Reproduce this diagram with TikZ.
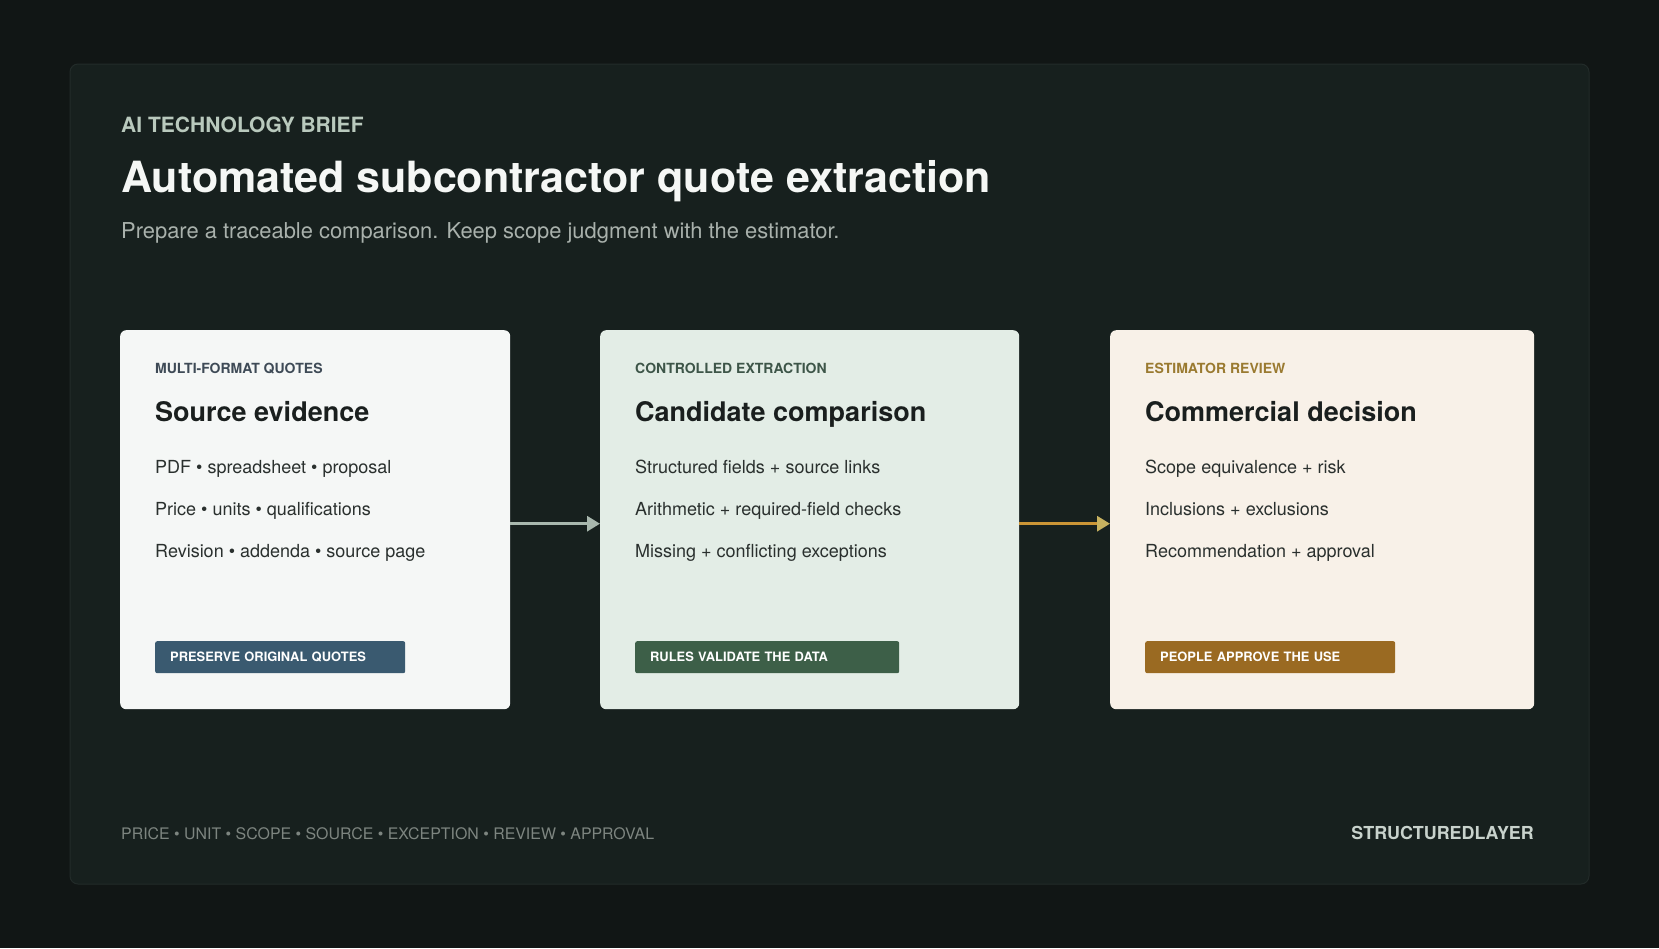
\documentclass[tikz,border=0pt]{standalone}
\usepackage{fontspec}
\setmainfont{TeX Gyre Heros}
\usetikzlibrary{arrows.meta}
\definecolor{bgout}{HTML}{111615}
\definecolor{panel}{HTML}{17201E}
\definecolor{panelline}{HTML}{222B29}
\definecolor{kicker}{HTML}{B9C9BD}
\definecolor{titlecol}{HTML}{F5F7F5}
\definecolor{subcol}{HTML}{A9B1AC}
\definecolor{cardA}{HTML}{F5F7F6}
\definecolor{cardB}{HTML}{E3EDE6}
\definecolor{cardC}{HTML}{F8F1E8}
\definecolor{labA}{HTML}{3E4A56}
\definecolor{labB}{HTML}{3D5548}
\definecolor{labC}{HTML}{9A7A30}
\definecolor{badA}{HTML}{3A5A70}
\definecolor{badB}{HTML}{3D5F48}
\definecolor{badC}{HTML}{9A6A22}
\definecolor{dark}{HTML}{1A1F1E}
\definecolor{body}{HTML}{2A302E}
\definecolor{arrA}{HTML}{A9B8AE}
\definecolor{arrC}{HTML}{CB9536}
\definecolor{arrCh}{HTML}{C8B260}
\definecolor{foot}{HTML}{7D8580}
\definecolor{brand}{HTML}{C8D2CC}
\tikzset{
  card/.style={rounded corners=6pt, anchor=north west, minimum width=#1, minimum height=379pt, inner sep=0pt},
  kick/.style={anchor=base west, inner sep=0pt, font=\bfseries\fontsize{14}{16}\selectfont},
  ctitle/.style={anchor=base west, inner sep=0pt, text=dark, font=\bfseries\fontsize{27}{31}\selectfont},
  item/.style={anchor=base west, inner sep=0pt, text=body, font=\fontsize{18}{21}\selectfont},
  badge/.style={anchor=north west, rounded corners=2pt, text=white, align=left, inner xsep=15pt, inner ysep=0pt, minimum height=32pt, text width=#1, font=\bfseries\fontsize{12.9}{15}\selectfont},
  arr/.style={line width=3pt, -{Triangle[length=13pt,width=15pt]}},
}
\begin{document}
\begin{tikzpicture}[x=1pt,y=-1pt]
\useasboundingbox (0,0) rectangle (1659,948);
\fill[bgout] (0,0) rectangle (1659,948);
\filldraw[fill=panel, draw=panelline, line width=1pt, rounded corners=8pt] (70,64) rectangle (1589,884);

\node[anchor=base west, inner sep=0pt, text=kicker, font=\bfseries\fontsize{21}{24}\selectfont] (kick) at (121,132) {AI TECHNOLOGY BRIEF};
\node[anchor=base west, inner sep=0pt, text=titlecol, font=\bfseries\fontsize{43}{49}\selectfont] (title) at (121,192) {Automated subcontractor quote extraction};
\node[anchor=base west, inner sep=0pt, text=subcol, font=\fontsize{21.9}{25}\selectfont] (sub) at (121,238) {Prepare a traceable comparison. Keep scope judgment with the estimator.};

% cards
\node[card=390pt, fill=cardA] (c1) at (120,330) {};
\node[card=419pt, fill=cardB] (c2) at (600,330) {};
\node[card=424pt, fill=cardC] (c3) at (1110,330) {};

% card 1
\node[kick, text=labA] (k1) at (155,373) {MULTI-FORMAT QUOTES};
\node[ctitle] (t1) at (155,421) {Source evidence};
\node[item] (i11) at (155,473) {PDF • spreadsheet • proposal};
\node[item] (i12) at (155,515) {Price • units • qualifications};
\node[item] (i13) at (155,557) {Revision • addenda • source page};
\node[badge=220pt, fill=badA] (b1) at (155,641) {PRESERVE ORIGINAL QUOTES};

% card 2
\node[kick, text=labB] (k2) at (635,373) {CONTROLLED EXTRACTION};
\node[ctitle] (t2) at (635,421) {Candidate comparison};
\node[item] (i21) at (635,473) {Structured fields + source links};
\node[item] (i22) at (635,515) {Arithmetic + required-field checks};
\node[item] (i23) at (635,557) {Missing + conflicting exceptions};
\node[badge=234pt, fill=badB] (b2) at (635,641) {RULES VALIDATE THE DATA};

% card 3
\node[kick, text=labC] (k3) at (1145,373) {ESTIMATOR REVIEW};
\node[ctitle] (t3) at (1145,421) {Commercial decision};
\node[item] (i31) at (1145,473) {Scope equivalence + risk};
\node[item] (i32) at (1145,515) {Inclusions + exclusions};
\node[item] (i33) at (1145,557) {Recommendation + approval};
\node[badge=220pt, fill=badC] (b3) at (1145,641) {PEOPLE APPROVE THE USE};

% arrows
\draw[arr, draw=arrA, fill=arrA] ([yshift=-4pt]c1.east) -- ([yshift=-4pt]c2.west);
\draw[line width=3pt, draw=arrC, -{Triangle[length=13pt,width=15pt,color=arrCh]}] ([yshift=-4pt]c2.east) -- ([yshift=-4pt]c3.west);

% footer
\node[anchor=base west, inner sep=0pt, text=foot, font=\fontsize{15.9}{18}\selectfont] (foot) at (121,839) {PRICE • UNIT • SCOPE • SOURCE • EXCEPTION • REVIEW • APPROVAL};
\node[anchor=base east, inner sep=0pt, text=brand, font=\bfseries\fontsize{17.9}{21}\selectfont] (brand) at (1534,839) {STRUCTUREDLAYER};
\end{tikzpicture}
\end{document}
